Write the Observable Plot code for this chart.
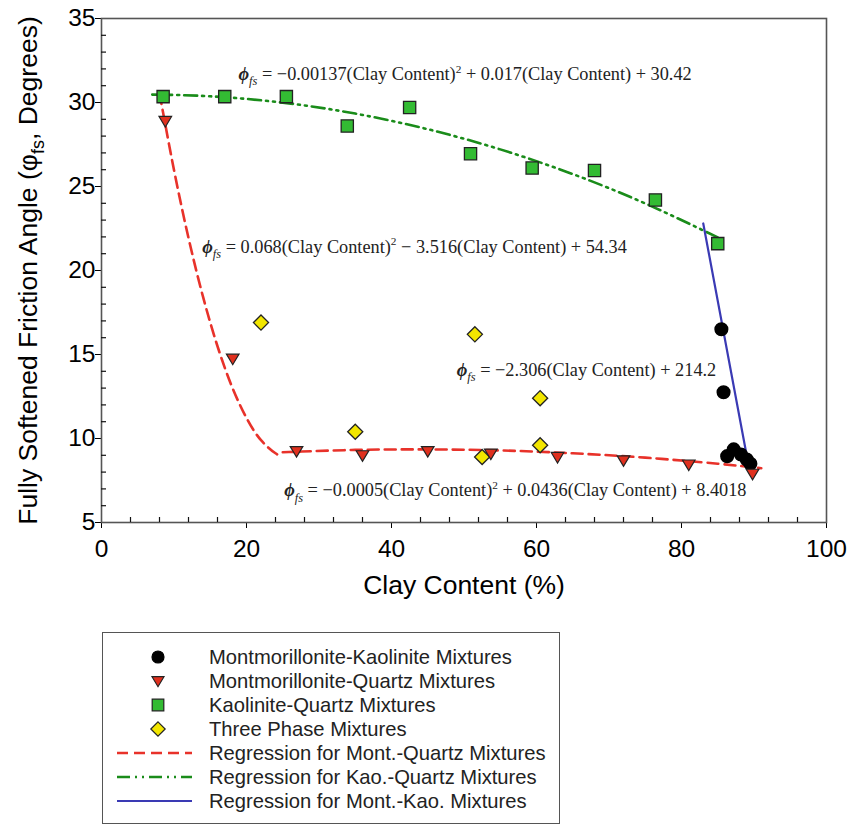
<!DOCTYPE html>
<html><head><meta charset="utf-8">
<script src="https://cdn.jsdelivr.net/npm/d3@7"></script>
<script src="https://cdn.jsdelivr.net/npm/@observablehq/plot@0.6"></script>
<style>
body{margin:0;background:#fff;}
#wrap{position:relative;width:858px;height:826px;overflow:hidden;background:#fff;}
#legend{position:absolute;left:102px;top:632px;width:456px;height:190px;border:1.5px solid #555;background:#fff;}
</style></head><body><div id="wrap"><div id="chart"></div><div id="legend"></div></div>
<script>
// ---------- data ----------
const mkClay  = [85.5, 85.8, 86.3, 87.2, 88.2, 89.0, 89.5];          // Montmorillonite-Kaolinite
const mkAngle = [16.5, 12.75, 8.95, 9.35, 9.05, 8.75, 8.5];
const mqClay  = [8.8, 18.1, 26.9, 36.0, 45.0, 53.7, 62.9, 72.0, 81.0, 89.8]; // Montmorillonite-Quartz
const mqAngle = [28.9, 14.75, 9.25, 9.0, 9.25, 9.1, 8.9, 8.7, 8.45, 7.9];
const kqClay  = [8.5, 17.0, 25.5, 33.9, 42.5, 50.9, 59.4, 68.0, 76.4, 85.0]; // Kaolinite-Quartz
const kqAngle = [30.35, 30.35, 30.35, 28.6, 29.7, 26.95, 26.1, 25.95, 24.2, 21.6];
const tpClay  = [22.0, 35.0, 51.5, 52.5, 60.5, 60.5];                // Three phase
const tpAngle = [16.9, 10.4, 16.2, 8.9, 12.4, 9.6];

// regression curves, values
const kqFitClay  = [7, 15, 25, 35, 45, 55, 65, 75, 85];
const kqFitAngle = [30.47, 30.37, 29.99, 29.34, 28.41, 27.21, 25.74, 23.99, 21.97];
const mqFit1Clay  = [8, 10, 12, 14, 16, 18, 20, 22, 24, 24.8];
const mqFit1Angle = [30.56, 25.98, 21.94, 18.44, 15.49, 13.08, 11.22, 9.90, 9.12, 8.96];
const mqFit2Clay  = [25, 35, 45, 55, 65, 75, 85, 91];
const mqFit2Angle = [9.18, 9.32, 9.35, 9.29, 9.12, 8.86, 8.50, 8.23];
const mkFitClay  = [83, 89];
const mkFitAngle = [22.8, 8.97];

// equations (annotation text and data-space anchors)
const eqText = [
  "*{ϕ}_{fs} = −0.00137(Clay Content)^{2} + 0.017(Clay Content) + 30.42",
  "*{ϕ}_{fs} = 0.068(Clay Content)^{2} − 3.516(Clay Content) + 54.34",
  "*{ϕ}_{fs} = −2.306(Clay Content) + 214.2",
  "*{ϕ}_{fs} = −0.0005(Clay Content)^{2} + 0.0436(Clay Content) + 8.4018"
];
const eqClay  = [18.9, 13.9, 49.0, 25.2];
const eqAngle = [31.67, 21.39, 14.05, 6.9];

const xTicks = [0, 20, 40, 60, 80, 100];
const yTicks = [5, 10, 15, 20, 25, 30, 35];
const xTitle = "Clay Content (%)";
const yTitle = "Fully Softened Friction Angle (φ~{fs}, Degrees)";
const legendLabels = [
  "Montmorillonite-Kaolinite Mixtures",
  "Montmorillonite-Quartz Mixtures",
  "Kaolinite-Quartz Mixtures",
  "Three Phase Mixtures",
  "Regression for Mont.-Quartz Mixtures",
  "Regression for Kao.-Quartz Mixtures",
  "Regression for Mont.-Kao. Mixtures"
];

// ---------- helpers ----------
const pts = (xs, ys) => xs.map((x, i) => ({x, y: ys[i]}));
const xMinor = d3.range(0, 101, 4).filter(v => !xTicks.includes(v));
const yMinor = d3.range(5, 36, 1).filter(v => !yTicks.includes(v));

const downTriangle = {
  draw(ctx, size) {
    const r = Math.sqrt(size / Math.PI);
    ctx.moveTo(-r, -0.72 * r); ctx.lineTo(r, -0.72 * r); ctx.lineTo(0, 0.95 * r); ctx.closePath();
  }
};

const RED = "#e8322a", GREEN = "#1a8c1a", BLUE = "#3a3ab4";
const C = {
  mk: {fill: "#000", stroke: "#000", symbol: "circle", r: 6.3},
  mq: {fill: "#e0301e", stroke: "#222", symbol: downTriangle, r: 6.3},
  kq: {fill: "#33bb33", stroke: "#222", symbol: "square", r: 6.9},
  tp: {fill: "#f2e600", stroke: "#222", symbol: "diamond2", r: 6.8}
};
const LS = {
  red: {stroke: RED, strokeWidth: 2.6, strokeDasharray: "11,6"},
  green: {stroke: GREEN, strokeWidth: 2.6, strokeDasharray: "13,5,2,5,2,5"},
  blue: {stroke: BLUE, strokeWidth: 2.2}
};

// ---------- chart ----------
const W = 858, H = 612;
const ML = 101, MR = 32, MT = 18, MB = H - 522;
const FW = W - ML - MR, FH = H - MT - MB;
const chart = Plot.plot({
  width: W, height: H,
  marginLeft: ML, marginRight: MR, marginTop: MT, marginBottom: MB,
  x: {domain: [0, 100], ticks: xTicks, tickSize: 6, tickPadding: 11, label: null, line: true},
  y: {domain: [5, 35], ticks: yTicks, tickSize: 6, tickPadding: 0, label: null, line: true},
  style: {fontFamily: "'Liberation Sans', Arial, sans-serif", fontSize: "24.5px", background: "white", color: "black", overflow: "visible"},
  marks: [
    Plot.frame({stroke: "#555", strokeWidth: 1.6}),
    Plot.ruleX(xMinor, {insetTop: FH - 5, stroke: "#111", strokeWidth: 1.2}),
    Plot.ruleY(yMinor, {insetRight: FW - 5, stroke: "#111", strokeWidth: 1.2}),
    Plot.text([xTitle], {frameAnchor: "bottom", lineAnchor: "middle", textAnchor: "middle", dy: 63, fontSize: 26.5}),
    Plot.text([yTitle], {frameAnchor: "left", lineAnchor: "middle", textAnchor: "middle", rotate: -90, dx: -73, fontSize: 26.5}),
    // regression lines
    Plot.line(pts(kqFitClay, kqFitAngle), {x: "x", y: "y", curve: "natural", ...LS.green}),
    Plot.line(pts(mqFit1Clay, mqFit1Angle), {x: "x", y: "y", curve: "natural", ...LS.red}),
    Plot.line(pts(mqFit2Clay, mqFit2Angle), {x: "x", y: "y", curve: "natural", ...LS.red}),
    Plot.line(pts(mkFitClay, mkFitAngle), {x: "x", y: "y", ...LS.blue}),
    // points
    Plot.dot(pts(kqClay, kqAngle), {x: "x", y: "y", ...C.kq, strokeWidth: 1.3}),
    Plot.dot(pts(tpClay, tpAngle), {x: "x", y: "y", ...C.tp, strokeWidth: 1.3}),
    Plot.dot(pts(mkClay, mkAngle), {x: "x", y: "y", ...C.mk}),
    Plot.dot(pts(mqClay, mqAngle), {x: "x", y: "y", ...C.mq, strokeWidth: 1.2}),
    // equations
    Plot.text(eqText.map((t, i) => ({t, x: eqClay[i], y: eqAngle[i]})), {
      x: "x", y: "y", text: "t", textAnchor: "start", fontSize: 18.3,
      fontFamily: "'Liberation Serif', 'Times New Roman', serif", fill: "#222"
    })
  ]
});

// rich text: *{italic}, _{italic sub}, ~{upright sub}, ^{sup}
function richify(el) {
  const s = el.textContent;
  if (!/[_~^*]\{/.test(s)) return;
  const fs = parseFloat(el.getAttribute("font-size") || getComputedStyle(el).fontSize) || 18;
  el.textContent = "";
  const ns = "http://www.w3.org/2000/svg";
  let off = 0;
  const add = (txt, kind) => {
    const t = document.createElementNS(ns, "tspan");
    let target = 0;
    if (kind === "_" || kind === "~") {
      target = 0.28 * fs; t.setAttribute("font-size", (0.68 * fs).toFixed(1));
      if (kind === "_") t.setAttribute("font-style", "italic");
    }
    if (kind === "^") { target = -0.42 * fs; t.setAttribute("font-size", (0.62 * fs).toFixed(1)); }
    if (kind === "*") { t.setAttribute("font-style", "italic"); t.setAttribute("font-weight", "bold"); }
    if (target !== off) { t.setAttribute("dy", (target - off).toFixed(2)); off = target; }
    t.textContent = txt;
    el.appendChild(t);
  };
  const re = /([_~^*])\{([^}]*)\}/g;
  let last = 0, m;
  while ((m = re.exec(s))) {
    if (m.index > last) add(s.slice(last, m.index), "");
    add(m[2], m[1]);
    last = re.lastIndex;
  }
  if (last < s.length) add(s.slice(last), "");
}
document.getElementById("chart").appendChild(chart);
d3.select(chart).selectAll("text").each(function() { richify(this); });

// ---------- legend ----------
const lg = d3.select("#legend").append("svg").attr("width", 456).attr("height", 190)
  .style("font-family", "'Liberation Sans', Arial, sans-serif");
const symPath = (sym, r) => d3.symbol(typeof sym === "string"
  ? ({circle: d3.symbolCircle, square: d3.symbolSquare, diamond2: d3.symbolDiamond2})[sym] : sym, Math.PI * r * r)();
const kinds = [C.mk, C.mq, C.kq, C.tp, LS.red, LS.green, LS.blue];
legendLabels.forEach((label, i) => {
  const y = 24 + i * 24;
  const k = kinds[i];
  if (i < 4) {
    lg.append("path").attr("d", symPath(k.symbol, k.r * 0.95)).attr("transform", `translate(55,${y})`)
      .attr("fill", k.fill).attr("stroke", k.stroke).attr("stroke-width", 1.2);
  } else {
    lg.append("line").attr("x1", 14).attr("x2", 89).attr("y1", y).attr("y2", y)
      .attr("stroke", k.stroke).attr("stroke-width", k.strokeWidth)
      .attr("stroke-dasharray", k.strokeDasharray || null);
  }
  lg.append("text").attr("x", 106).attr("y", y).attr("dy", "0.35em").attr("font-size", 20.2)
    .attr("fill", "#222").text(label);
});
</script></body></html>
